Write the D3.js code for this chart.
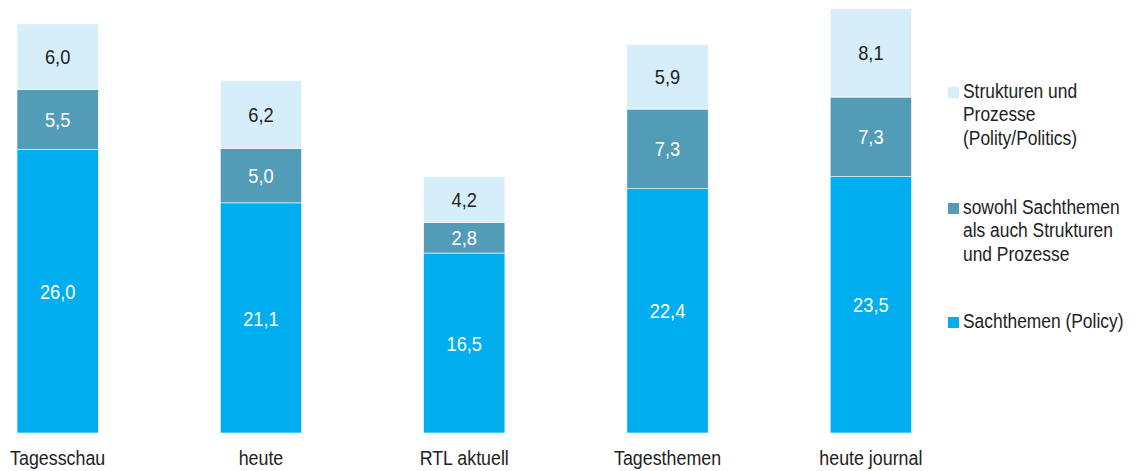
<!DOCTYPE html>
<html>
<head>
<meta charset="utf-8">
<script src="https://cdn.jsdelivr.net/npm/d3@7"></script>
<style>
  body { margin: 0; background: #fff; }
  svg text { font-family: 'Liberation Sans', Arial, sans-serif; }
</style>
</head>
<body>
<div class="chart"></div>
<script>
const sender = ['Tagesschau', 'heute', 'RTL aktuell', 'Tagesthemen', 'heute journal'];
const sachthemen = [26.0, 21.1, 16.5, 22.4, 23.5];
const beides = [5.5, 5.0, 2.8, 7.3, 7.3];
const strukturen = [6.0, 6.2, 4.2, 5.9, 8.1];
const seriesNames = [
  ['Strukturen und', 'Prozesse', '(Polity/Politics)'],
  ['sowohl Sachthemen', 'als auch Strukturen', 'und Prozesse'],
  ['Sachthemen (Policy)']
];

function drawChart() {
  const width = 1135;
  const height = 471;
  const colors = ['#00aeef', '#529cb8', '#d6edfa'];
  const textColors = ['#fff', '#fff', '#222'];
  const squeeze = 0.87; // condensed look

  const data = sender.map((s, i) => ({
    name: s, a: sachthemen[i], b: beides[i], c: strukturen[i]
  }));

  const layers = d3.stack().keys(['a', 'b', 'c'])(data);

  const svg = d3.select('.chart')
                .append('svg:svg')
                .attr('width', width)
                .attr('height', height);

  const x = d3.scaleBand()
              .domain(sender)
              .range([17, 911.5])
              .paddingInner(0.6)
              .paddingOuter(0);

  const y = d3.scaleLinear()
              .domain([0, 37.5])
              .range([433, 24]);

  const layer = svg.selectAll('g.layer')
    .data(layers)
    .enter().append('svg:g')
    .attr('class', 'layer');

  layer.each(function(l, li) {
    const g = d3.select(this);
    g.selectAll('rect')
      .data(l)
      .enter().append('svg:rect')
      .attr('x', d => x(d.data.name))
      .attr('width', x.bandwidth())
      .attr('y', d => y(d[1]))
      .attr('height', d => y(d[0]) - y(d[1]))
      .attr('fill', colors[li])
      .attr('stroke', '#fff')
      .attr('stroke-width', 0.6);

    g.selectAll('text')
      .data(l)
      .enter().append('svg:text')
      .attr('transform', d => `translate(${x(d.data.name) + x.bandwidth() / 2},${(y(d[0]) + y(d[1])) / 2}) scale(${squeeze},1)`)
      .attr('dy', '0.36em')
      .attr('text-anchor', 'middle')
      .attr('font-size', 21)
      .attr('fill', textColors[li])
      .text(d => d3.format('.1f')(d[1] - d[0]).replace('.', ','));
  });

  svg.append('svg:g')
     .selectAll('text')
     .data(sender)
     .enter().append('svg:text')
     .attr('transform', d => `translate(${x(d) + x.bandwidth() / 2},465) scale(${squeeze},1)`)
     .attr('text-anchor', 'middle')
     .attr('font-size', 20.5)
     .attr('fill', '#222')
     .text(d => d);

  // legend
  const legendTop = [87, 203, 317];
  const legendColors = [colors[2], colors[1], colors[0]];
  const legend = svg.append('svg:g')
    .selectAll('g')
    .data(seriesNames)
    .enter().append('svg:g')
    .attr('transform', (d, i) => `translate(948,${legendTop[i]})`);

  legend.append('svg:rect')
    .attr('width', 11)
    .attr('height', 11)
    .attr('fill', (d, i) => legendColors[i]);

  legend.append('svg:text')
    .attr('transform', `translate(15,11) scale(${squeeze},1)`)
    .attr('font-size', 20)
    .attr('fill', '#222')
    .selectAll('tspan')
    .data(d => d)
    .enter().append('svg:tspan')
    .attr('x', 0)
    .attr('dy', (d, i) => i === 0 ? 0 : 23.3)
    .text(d => d);
}

drawChart();
</script>
</body>
</html>
